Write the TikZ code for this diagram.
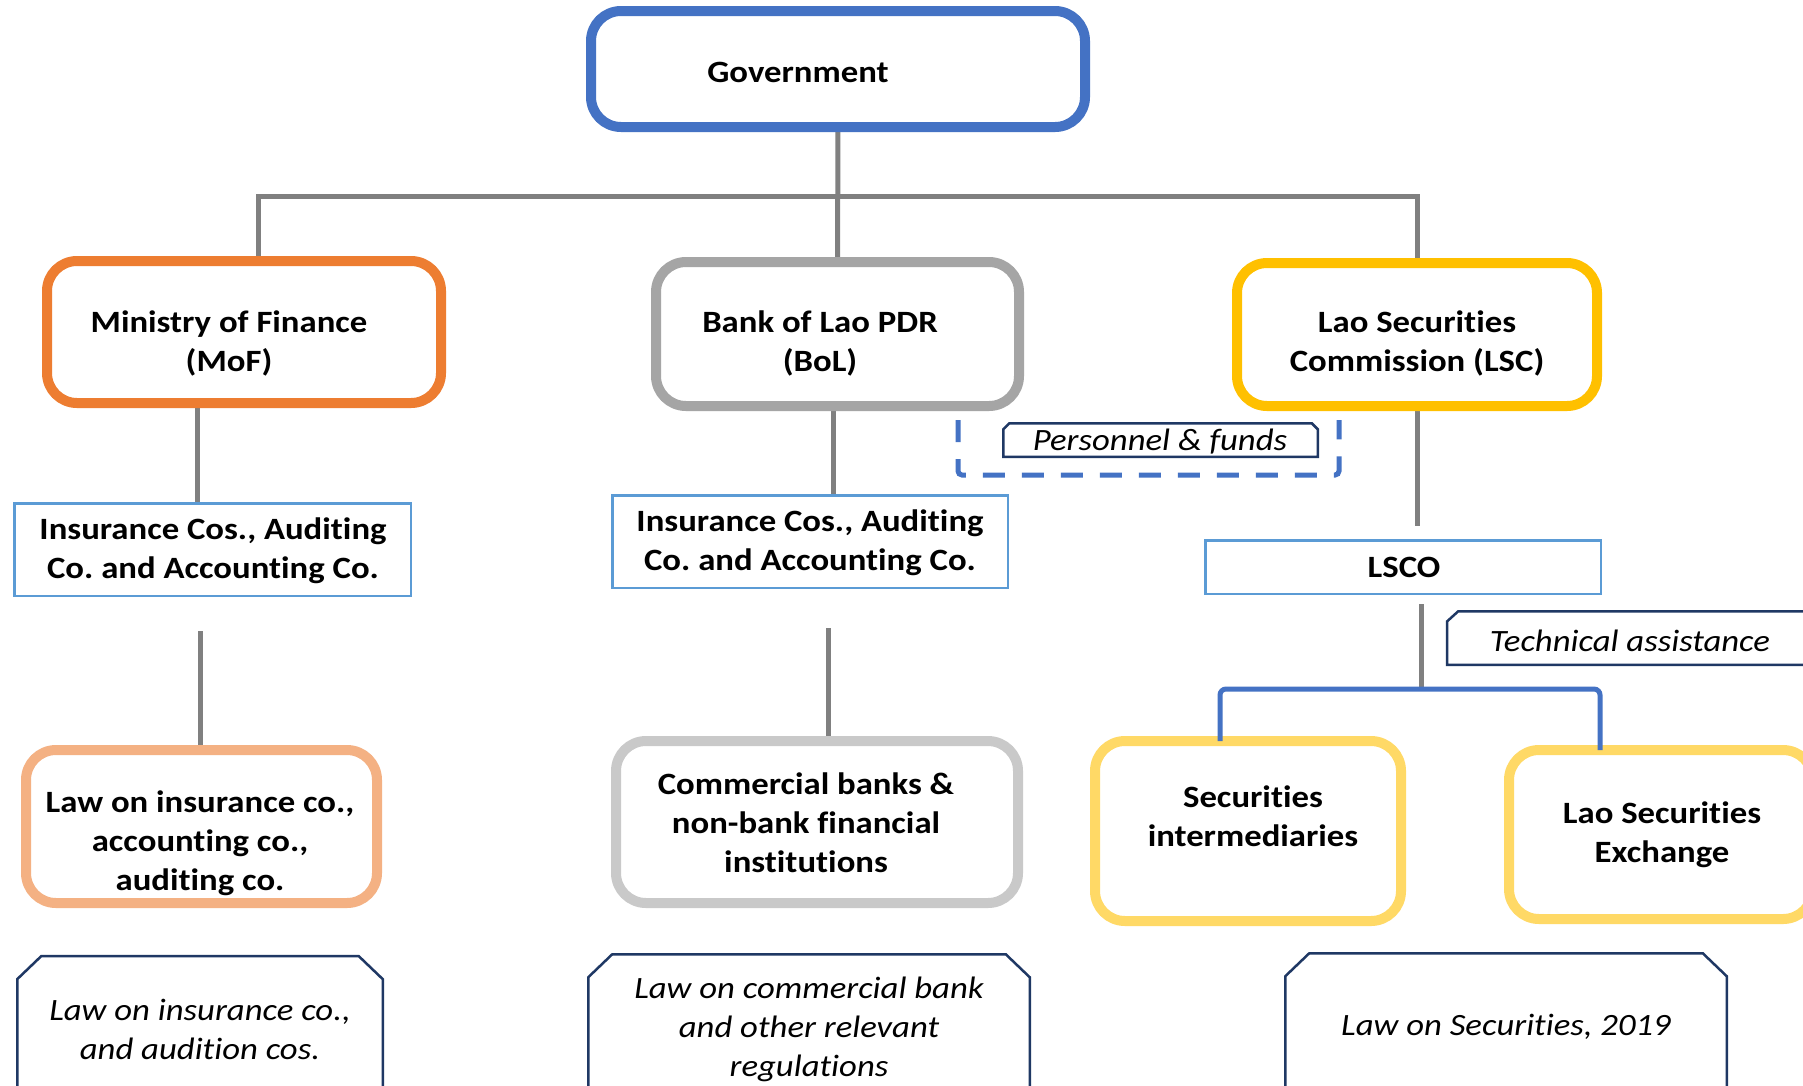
\documentclass[tikz,border=0pt]{standalone}
\usepackage{fontspec}
\setmainfont{Carlito}[FakeStretch=1.12, Ligatures=NoCommon]
\usetikzlibrary{backgrounds}
\definecolor{cGov}{HTML}{4472C4}
\definecolor{cMoF}{HTML}{ED7D31}
\definecolor{cBoL}{HTML}{A5A5A5}
\definecolor{cLSC}{HTML}{FFC000}
\definecolor{cThin}{HTML}{5B9BD5}
\definecolor{cMoFL}{HTML}{F4B183}
\definecolor{cBoLL}{HTML}{C9C9C9}
\definecolor{cSec}{HTML}{FFD966}
\definecolor{cNavy}{HTML}{1F3864}
\definecolor{cConn}{HTML}{808080}
\begin{document}
\begin{tikzpicture}[x=1pt,y=-1pt,
  box/.style={draw, fill=white, rounded corners=30pt, line width=10pt, inner sep=0pt, outer sep=0pt},
  thinbox/.style={draw=cThin, fill=white, line width=2.5pt, inner sep=0pt, outer sep=0pt},
  lbl/.style={font=\fontsize{31}{39}\selectfont\bfseries\frenchspacing, align=center, inner sep=0pt},
  ital/.style={font=\fontsize{31}{39}\selectfont\itshape\frenchspacing, align=center, inner sep=0pt, outer sep=0pt},
  conn/.style={draw=cConn, line width=5pt},
  bracket/.style={draw=cGov, line width=5pt, rounded corners=6pt},
  navyline/.style={draw=cNavy, line width=2.5pt, fill=white},
  dashbr/.style={draw=cGov, line width=5pt, dash pattern=on 22pt off 17pt, rounded corners=4pt}]
\useasboundingbox (0,0) rectangle (1803,1085);
\clip (0,0) rectangle (1803,1085);

% main boxes
\node[box, draw=cGov, minimum width=494pt, minimum height=116pt] (gov) at (838,69) {};
\node[lbl] (govT) at (798,72) {Government};
\node[box, draw=cMoF, minimum width=394pt, minimum height=142pt] (mof) at (244,332) {};
\node[lbl] (mofT) at (229,343) {Ministry of Finance\\(MoF)};
\node[box, draw=cBoL, minimum width=363pt, minimum height=144pt] (bol) at (837.5,334) {};
\node[lbl] (bolT) at (820,343) {Bank of Lao PDR\\(BoL)};
\node[box, draw=cLSC, minimum width=360pt, minimum height=143pt] (lsc) at (1417,334.5) {};
\node[lbl] (lscT) at (1417,343) {Lao Securities\\Commission (LSC)};

\node[thinbox, minimum width=396.5pt, minimum height=92.5pt] (ins1) at (212.5,549.5) {};
\node[lbl] (ins1T) at (213,551) {Insurance Cos., Auditing\\Co. and Accounting Co.};
\node[thinbox, minimum width=395.5pt, minimum height=92.5pt] (ins2) at (810,541.5) {};
\node[lbl] (ins2T) at (810,543) {Insurance Cos., Auditing\\Co. and Accounting Co.};
\node[thinbox, minimum width=395.5pt, minimum height=53.5pt] (lsco) at (1403,567) {};
\node[lbl] (lscoT) at (1404,567) {LSCO};

\node[box, draw=cMoFL, minimum width=351pt, minimum height=153pt] (lawA) at (201.5,826.5) {};
\node[lbl] (lawAT) at (200,843) {Law on insurance co.,\\accounting co.,\\auditing co.};
\node[box, draw=cBoLL, minimum width=402pt, minimum height=162pt] (comm) at (817,822) {};
\node[lbl] (commT) at (806,823) {Commercial banks \&\\non-bank financial\\institutions};
\node[box, draw=cSec, minimum width=306pt, minimum height=180pt] (secint) at (1248,831) {};
\node[lbl] (secintT) at (1253,816) {Securities\\intermediaries};
\node[box, draw=cSec, minimum width=304pt, minimum height=169pt] (lse) at (1661,834.5) {};
\node[lbl] (lseT) at (1662,835) {Lao Securities\\Exchange};

% snipped label boxes
\node[ital, minimum width=314.5pt, minimum height=33.5pt] (pf) at (1160.5,440) {};
\draw[navyline] (pf.south west) -- ([yshift=-6pt]pf.north west) -- ([xshift=6pt]pf.north west)
  -- ([xshift=-6pt]pf.north east) -- ([yshift=-6pt]pf.north east) -- (pf.south east) -- cycle;
\node[ital] (pfT) at (1160,442) {Personnel \& funds};

\node[ital, minimum width=367.75pt, minimum height=53.5pt] (ta) at (1631.1,638) {};
\draw[navyline] (ta.south west) -- ([yshift=-10pt]ta.north west) -- ([xshift=11pt]ta.north west)
  -- (ta.north east) -- (ta.south east) -- cycle;
\node[ital] (taT) at (1630,641) {Technical assistance};

\node[ital, minimum width=365.5pt, minimum height=143.75pt] (l1) at (200,1028) {};
\draw[navyline] (l1.south west) -- ([yshift=-23pt]l1.north west) -- ([xshift=24pt]l1.north west)
  -- ([xshift=-24pt]l1.north east) -- ([yshift=-23pt]l1.north east) -- (l1.south east);
\node[ital] (l1T) at (200,1029) {Law on insurance co.,\\and audition cos.};

\node[ital, minimum width=441.5pt, minimum height=149.5pt] (l2) at (809,1029) {};
\draw[navyline] (l2.south west) -- ([yshift=-23pt]l2.north west) -- ([xshift=24pt]l2.north west)
  -- ([xshift=-24pt]l2.north east) -- ([yshift=-23pt]l2.north east) -- (l2.south east);
\node[ital] (l2T) at (809,1029) {Law on commercial bank\\and other relevant\\regulations};

\node[ital, minimum width=441.5pt, minimum height=147.5pt] (l3) at (1506,1027) {};
\draw[navyline] (l3.south west) -- ([yshift=-23pt]l3.north west) -- ([xshift=24pt]l3.north west)
  -- ([xshift=-24pt]l3.north east) -- ([yshift=-23pt]l3.north east) -- (l3.south east);
\node[ital] (l3T) at (1506,1027) {Law on Securities, 2019};

% connectors
\begin{scope}[on background layer]
\fill[white] (0,0) rectangle (1803,1085);
\coordinate (busL) at (258,196);
\coordinate (busR) at (1417,196);
\draw[conn] (gov.south) -- (bol.north);
\draw[conn] (busL |- mof.north) -- (busL) -- (busR) -- (lsc.north);
\coordinate (xA) at (197,0);
\draw[conn] (mof.south -| xA) -- (ins1.north -| xA);
\coordinate (g1) at (200,631);
\draw[conn] (g1) -- (g1 |- lawA.north);
\coordinate (xB) at (833,0);
\draw[conn] (bol.south -| xB) -- (ins2.north -| xB);
\coordinate (g2) at (828,628);
\draw[conn] (g2) -- (g2 |- comm.north);
\coordinate (g3) at (1417,526);
\draw[conn] (lsc.south) -- (g3);
\coordinate (g4) at (1421,604);
\coordinate (bk) at (1421,689);
\draw[conn] (g4) -- (bk);
\end{scope}

\coordinate (bL) at (1220,689);
\coordinate (bR) at (1600,689);
\draw[bracket] (secint.north -| bL) -- (bL) -- (bR) -- (lse.north -| bR);

\coordinate (dL) at (958,420);
\coordinate (dR) at (1339,420);
\coordinate (dB) at (0,475);
\draw[dashbr] (dL) -- (dL |- dB) -- (dR |- dB) -- (dR);
\end{tikzpicture}
\end{document}
